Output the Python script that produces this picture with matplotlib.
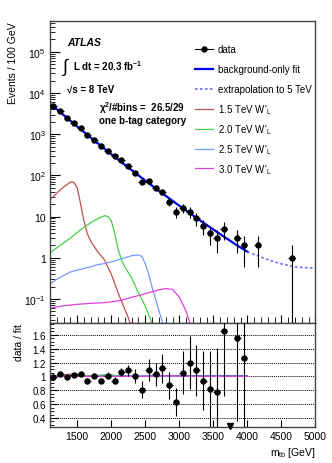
import numpy as np
import matplotlib.pyplot as plt
from matplotlib.lines import Line2D
from matplotlib.ticker import FuncFormatter, MultipleLocator, LogLocator, NullFormatter

plt.rcParams['font.family'] = ['Liberation Sans', 'DejaVu Sans']
plt.rcParams['mathtext.fontset'] = 'custom'
plt.rcParams['mathtext.rm'] = 'Liberation Sans'
plt.rcParams['mathtext.it'] = 'Liberation Sans:italic'
plt.rcParams['mathtext.bf'] = 'Liberation Sans:bold'

# datos (centros de bin de 100 GeV)
data_m = [1150, 1250, 1350, 1450, 1550, 1650, 1750, 1850, 1950, 2050,
          2150, 2250, 2350, 2450, 2550, 2650, 2750, 2850, 2950, 3050,
          3150, 3250, 3350, 3450, 3550, 3650, 3850, 3950, 4150, 4650]
data_n = [4700, 3640, 2460, 1900, 1410, 930, 730, 530, 400, 288,
          230, 173, 116, 69, 71, 50, 39, 23, 13, 16,
          13, 9, 6, 4, 3, 5, 3, 2, 2, 1]

# ajuste de fondo
fit_m = [1100, 1200, 1300, 1400, 1500, 1600, 1700, 1800, 1900, 2000,
         2100, 2200, 2300, 2400, 2500, 2600, 2700, 2800, 2900, 3000,
         3100, 3200, 3300, 3400, 3500, 3600, 3700, 3800, 3900, 4000,
         4100, 4200, 4300, 4400, 4500, 4600, 4700, 4800, 4900, 5000]
fit_val = [5370, 4040, 2920, 2120, 1540, 1120, 820, 603, 443, 327,
           242, 179, 134, 99.8, 74.6, 56.0, 42.2, 31.8, 24.1, 18.3,
           14.0, 10.7, 8.17, 6.28, 4.84, 3.74, 2.90, 2.25, 1.76, 1.40,
           1.20, 1.04, 0.90, 0.79, 0.71, 0.65, 0.60, 0.58, 0.57, 0.56]
fit_max = 4000

# señales W'_L
sig15_m = [1100, 1200, 1300, 1400, 1450, 1500, 1550, 1600, 1650, 1700,
           1800, 1900, 2000, 2100, 2200, 2250, 2300]
sig15 = [25.7, 37, 52, 69, 68, 50, 20, 7.6, 3.8, 2.5,
         1.4, 0.89, 0.40, 0.14, 0.056, 0.035, 0.02]
sig20_m = [1100, 1200, 1300, 1400, 1500, 1600, 1700, 1800, 1900, 1950,
           2000, 2050, 2100, 2150, 2200, 2300, 2400, 2500, 2600]
sig20 = [1.32, 1.74, 2.3, 3.0, 4.1, 5.5, 7.1, 8.9, 10.5, 10.0,
         7.9, 4.0, 1.6, 0.89, 0.60, 0.32, 0.14, 0.066, 0.025]
sig25_m = [1100, 1200, 1300, 1400, 1500, 1600, 1700, 1800, 1900, 2000,
           2100, 2200, 2300, 2400, 2450, 2500, 2550, 2600, 2650, 2700,
           2750, 2800]
sig25 = [0.23, 0.30, 0.37, 0.45, 0.50, 0.55, 0.60, 0.68, 0.72, 0.79,
         0.89, 1.0, 1.12, 1.17, 1.07, 0.71, 0.40, 0.19, 0.10, 0.052,
         0.028, 0.016]
sig30_m = [1100, 1300, 1500, 1700, 1900, 2100, 2200, 2300, 2400, 2500,
           2600, 2700, 2800, 2900, 3000, 3100, 3150, 3200]
sig30 = [0.060, 0.068, 0.074, 0.078, 0.081, 0.089, 0.098, 0.11, 0.12, 0.135,
         0.15, 0.166, 0.178, 0.17, 0.11, 0.05, 0.028, 0.013]

# cociente datos / ajuste
ratio_m = [1150, 1250, 1350, 1450, 1550, 1650, 1750, 1850, 1950, 2050,
           2150, 2250, 2350, 2450, 2550, 2650, 2750, 2850, 2950, 3050,
           3150, 3250, 3350, 3450, 3550, 3650, 3850, 3950]
ratio = [0.99, 1.03, 0.99, 1.02, 1.04, 0.94, 1.01, 0.94, 1.01, 0.94,
         1.06, 1.09, 1.01, 0.81, 1.09, 1.03, 1.12, 0.87, 0.63, 1.05,
         1.20, 1.09, 0.94, 0.82, 0.78, 1.66, 1.55, 1.26]
ratio_err = [0.02, 0.02, 0.025, 0.03, 0.03, 0.035, 0.04, 0.04, 0.05, 0.055,
             0.06, 0.08, 0.10, 0.12, 0.16, 0.17, 0.21, 0.20, 0.20, 0.31,
             0.38, 0.37, 0.43, 0.55, 0.63, 0.95, 1.2, 1.0]
ratio_empty = [3750]

signals = [(sig15_m, sig15, '#c0504d', "1.5 TeV W$'_{\\rm L}$"),
           (sig20_m, sig20, '#44d044', "2.0 TeV W$'_{\\rm L}$"),
           (sig25_m, sig25, '#7799ff', "2.5 TeV W$'_{\\rm L}$"),
           (sig30_m, sig30, '#e040e0', "3.0 TeV W$'_{\\rm L}$")]

W, H = 332, 464
fig = plt.figure(figsize=(W / 100, H / 100), dpi=100)
ax1 = fig.add_axes([0.1506, 0.3017, 0.7997, 0.6509])
ax2 = fig.add_axes([0.1506, 0.0776, 0.7997, 0.2241], sharex=ax1)

fm = np.array(fit_m)
fv = np.array(fit_val)
dentro = fm <= fit_max
fuera = fm >= fit_max

# panel superior
for m, s, c, lab in signals:
    ax1.plot(m, s, color=c, lw=0.9)
ax1.plot(fm[dentro], fv[dentro], color='#0000ee', lw=1.6)
ax1.plot(fm[fuera], fv[fuera], color='#6666ff', lw=1.2, ls=(0, (1.5, 1.5)))
dn = np.array(data_n, dtype=float)
ax1.errorbar(data_m, dn, yerr=np.sqrt(dn), xerr=50, fmt='o', color='black',
             ms=3.6, elinewidth=0.8, capsize=0, zorder=5)

ax1.set_yscale('log')
ax1.set_xlim(1100, 5000)
ax1.set_ylim(0.026, 5.6e5)


def fmt_log(v, pos):
    if v == 1:
        return '1'
    if v == 10:
        return '10'
    return '$10^{%d}$' % int(round(np.log10(v)))


ax1.yaxis.set_major_locator(LogLocator(base=10, numticks=15))
ax1.yaxis.set_minor_locator(LogLocator(base=10, subs=np.arange(2, 10), numticks=15))
ax1.yaxis.set_major_formatter(FuncFormatter(fmt_log))
ax1.yaxis.set_minor_formatter(NullFormatter())
ax1.xaxis.set_major_locator(MultipleLocator(1000))
ax1.xaxis.set_minor_locator(MultipleLocator(500))
ax1.tick_params(axis='x', which='both', labelbottom=False, direction='in')
ax1.tick_params(axis='x', which='major', length=6)
ax1.tick_params(axis='x', which='minor', length=4)
ax1.tick_params(axis='y', which='major', direction='in', length=7, labelsize=7.5, pad=3)
ax1.tick_params(axis='y', which='minor', direction='in', length=3.5)
ax1.set_ylabel('Events / 100 GeV', loc='top', fontsize=7.5)
ax1.yaxis.set_label_coords(-0.122, 1)

# leyenda (filas espaciadas como en el original)
leyenda = [('data', 'black', 0.8, '-', 'o'),
           ('background-only fit', '#0000ee', 1.6, '-', None),
           ('extrapolation to 5 TeV', '#6666ff', 1.2, (0, (1.5, 1.5)), None)]
leyenda += [(s[3], s[2], 0.9, '-', None) for s in signals]
for i, (lab, c, lw, ls, mk) in enumerate(leyenda):
    yy = 1 - (50 + 19.9 * i) / H
    fig.add_artist(Line2D([195 / W, 213 / W], [yy, yy], color=c, lw=lw, ls=ls,
                          transform=fig.transFigure))
    if mk:
        fig.add_artist(Line2D([204 / W], [yy], color=c, marker=mk, ms=3.6,
                              transform=fig.transFigure))
    fig.text(218 / W, yy - 3.4 / H, lab, fontsize=7, va='baseline')

# textos
fig.text(67 / W, 1 - 43 / H, 'ATLAS', fontsize=7.5, fontweight='bold',
         fontstyle='italic', va='center')
fig.text(63 / W, 1 - 67 / H, '\u222b', fontsize=13, va='center')
fig.text(73 / W, 1 - 66 / H, 'L dt = 20.3 fb$^{\\mathbf{-1}}$', fontsize=7,
         fontweight='bold', va='center')
fig.text(67 / W, 1 - 89 / H, '\u221as = 8 TeV', fontsize=7, fontweight='bold', va='center')
fig.text(99 / W, 1 - 108 / H, '$\\mathbf{\\chi^2}$/#bins =  26.5/29', fontsize=7,
         fontweight='bold', va='center')
fig.text(99 / W, 1 - 121 / H, 'one b-tag category', fontsize=7,
         fontweight='bold', va='center')

# panel inferior
rm = fm[dentro]
ax2.plot(rm, np.ones(len(rm)), color='#0000ee', lw=1.2)
for m, s, c, lab in signals:
    s_en_fit = np.interp(rm, m, s, left=0, right=0)
    ax2.plot(rm, 1 + s_en_fit / fv[dentro], color=c, lw=0.9)
ax2.errorbar(ratio_m, ratio, yerr=ratio_err, xerr=50, fmt='o', color='black',
             ms=3.6, elinewidth=0.8, capsize=0, zorder=5)
ax2.plot(ratio_empty, [0.29] * len(ratio_empty), 'v', color='black', ms=4.5,
         clip_on=False, zorder=6)

ax2.set_ylim(0.27, 1.77)
ax2.yaxis.set_major_locator(MultipleLocator(0.2))
ax2.yaxis.set_minor_locator(MultipleLocator(0.05))
ax2.yaxis.set_major_formatter(FuncFormatter(lambda v, p: '%g' % round(v, 1)))
ax2.xaxis.set_major_locator(MultipleLocator(500))
ax2.xaxis.set_minor_locator(MultipleLocator(100))
ax2.tick_params(axis='x', which='major', direction='in', length=5, labelsize=7.5, pad=3)
ax2.tick_params(axis='x', which='minor', direction='in', length=0)
ax2.tick_params(axis='y', which='major', direction='in', length=6, labelsize=7, pad=3)
ax2.tick_params(axis='y', which='minor', direction='in', length=3)
ax2.grid(axis='y', which='major', color='black', ls=(0, (1, 1)), lw=0.7)
ax2.set_ylabel('data / fit', loc='top', fontsize=7.5)
ax2.yaxis.set_label_coords(-0.098, 1)
ax2.set_xlabel('m$_{\\rm tb}$ [GeV]', loc='right', fontsize=7.5)
ax2.xaxis.set_label_coords(1, -0.17)
ax2.set_xlim(1100, 5000)

for ax in (ax1, ax2):
    for sp in ax.spines.values():
        sp.set_color('#444444')
        sp.set_linewidth(1)

plt.savefig('out.png', dpi=100)
